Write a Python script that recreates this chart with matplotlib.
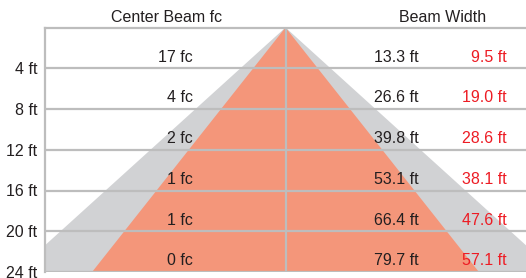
import matplotlib.pyplot as plt

# Beam data
depth = [4, 8, 12, 16, 20, 24]
center_fc = [17, 4, 2, 1, 1, 0]
beam_width = [13.3, 26.6, 39.8, 53.1, 66.4, 79.7]
field_width = [9.5, 19.0, 28.6, 38.1, 47.6, 57.1]

plt.rcParams['font.family'] = ['Liberation Sans', 'DejaVu Sans']

grid_col = "#BDBDBD"
fs = 11.5
fig = plt.figure(figsize=(5.26, 2.78), dpi=100)
ax = fig.add_axes([45 / 526, 1 - 272 / 278, 481 / 526, 244.5 / 278])

# beam cones
ax.fill([0, -beam_width[-1] / 2, beam_width[-1] / 2], [0, depth[-1], depth[-1]],
        color="#D1D2D4", lw=0, zorder=1)
ax.fill([0, -field_width[-1] / 2, field_width[-1] / 2], [0, depth[-1], depth[-1]],
        color="#F4967A", lw=0, zorder=2)

for d in depth:
    ax.axhline(d, color=grid_col, lw=1.6, zorder=3)
ax.axvline(0, color=grid_col, lw=1.6, zorder=3)

ax.set_xlim(-35.5, 35.5)
ax.set_ylim(24, 0)

for d, fc, bw, fw in zip(depth, center_fc, beam_width, field_width):
    y = d - 1.08
    ax.text(-13.7, y, f"{fc} fc", ha="right", va="center", fontsize=fs, color="#231F20", zorder=4)
    ax.text(19.7, y, f"{bw:.1f} ft", ha="right", va="center", fontsize=fs, color="#231F20", zorder=4)
    ax.text(32.6, y, f"{fw:.1f} ft", ha="right", va="center", fontsize=fs, color="#ED1C24", zorder=4)

ax.text(-17.5, -0.95, "Center Beam fc", ha="center", va="center", fontsize=fs, color="#231F20")
ax.text(23.2, -0.95, "Beam Width", ha="center", va="center", fontsize=fs, color="#231F20")

ax.set_yticks(depth)
ax.set_yticklabels([f"{d} ft" for d in depth], fontsize=fs, color="#231F20")
ax.tick_params(axis="y", length=0, pad=5.5)
ax.set_xticks([])

for s in ["right", "bottom"]:
    ax.spines[s].set_visible(False)
for s in ["left", "top"]:
    ax.spines[s].set_color(grid_col)
    ax.spines[s].set_linewidth(1.6)
    ax.spines[s].set_zorder(3)

fig.savefig("out.png", dpi=100)
